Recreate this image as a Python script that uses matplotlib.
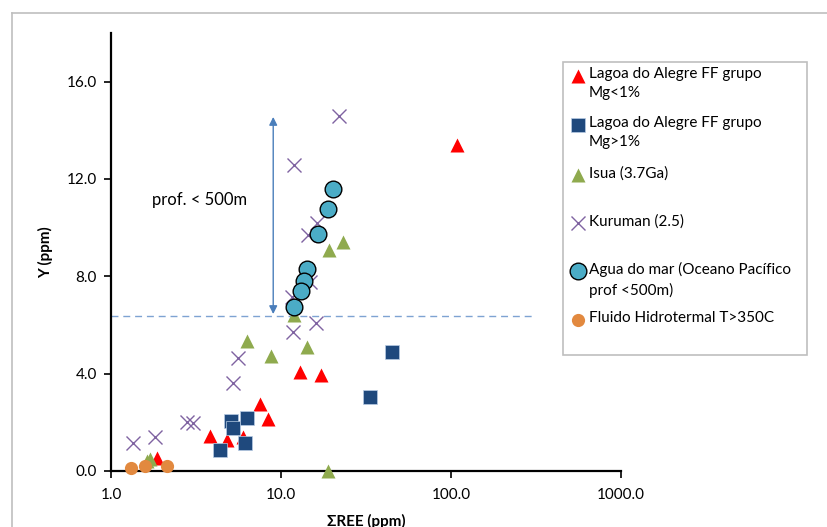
import matplotlib.pyplot as plt
from matplotlib.lines import Line2D
from matplotlib.patches import Rectangle

plt.rcParams['font.family'] = ['Lato', 'DejaVu Sans']

# Lagoa do Alegre FF grupo Mg<1%
red_x = [109, 12.9, 17.1, 7.5, 8.35, 3.8, 4.8, 6.0, 1.86]
red_y = [13.4, 4.07, 3.94, 2.75, 2.14, 1.44, 1.27, 1.4, 0.53]
# Lagoa do Alegre FF grupo Mg>1%
blue_x = [44.7, 33.6, 5.1, 5.2, 6.3, 6.1, 4.4]
blue_y = [4.89, 3.04, 2.05, 1.77, 2.18, 1.15, 0.86]
# Isua (3.7Ga)
green_x = [6.3, 8.7, 14.2, 11.9, 18.8, 1.62, 1.70, 19.1, 23.3]
green_y = [5.34, 4.72, 5.09, 6.4, 0.0, 0.42, 0.48, 9.08, 9.4]
# Kuruman (2.5)
kur_x = [21.8, 12.0, 16.2, 14.5, 14.9, 11.6, 16.0, 11.7, 5.57, 5.2, 2.79, 3.03, 1.81, 1.35]
kur_y = [14.58, 12.57, 10.2, 9.7, 7.76, 7.15, 6.08, 5.7, 4.64, 3.61, 2.0, 1.97, 1.4, 1.15]
# Agua do mar
sea_x = [20.1, 18.8, 16.4, 14.2, 13.6, 13.1, 11.9]
sea_y = [11.58, 10.76, 9.73, 8.3, 7.8, 7.39, 6.74]
# Fluido Hidrotermal
hyd_x = [1.31, 1.58, 2.13]
hyd_y = [0.12, 0.2, 0.2]

labels = ['Lagoa do Alegre FF grupo\nMg<1%', 'Lagoa do Alegre FF grupo\nMg>1%',
          'Isua (3.7Ga)', 'Kuruman (2.5)',
          'Agua do mar (Oceano Pacífico\nprof <500m)', 'Fluido Hidrotermal T>350C']

fig = plt.figure(figsize=(8.27, 5.27), dpi=100)
ax = fig.add_axes([111/827, 1-471/527, 510/827, 438/527])

styles = [
    dict(marker='^', color='#FF0000', ms=10, mec='none'),
    dict(marker='s', color='#1F497D', ms=9.5, mec='#B8CCE4', mew=0.5),
    dict(marker='^', color='#8FAA4E', ms=10, mec='none'),
    dict(marker='x', color='#7F63A1', ms=9.5, mew=1.0),
    dict(marker='o', color='#4BACC6', ms=12, mec='black', mew=1.0),
    dict(marker='o', color='#E2893F', ms=9.5, mec='none'),
]
series = [(red_x, red_y), (blue_x, blue_y), (green_x, green_y),
          (kur_x, kur_y), (sea_x, sea_y), (hyd_x, hyd_y)]
for (sx, sy), st in zip(series, styles):
    ax.plot(sx, sy, linestyle='none', clip_on=False, zorder=3, **st)

ax.set_xscale('log')
ax.set_xlim(1, 1000)
ax.set_ylim(0, 18)
ax.set_yticks([0, 4, 8, 12, 16])
ax.set_xticks([1, 10, 100, 1000])
ax.set_xticklabels(['1.0', '10.0', '100.0', '1000.0'])
ax.set_yticklabels(['0.0', '4.0', '8.0', '12.0', '16.0'])
ax.minorticks_off()
ax.tick_params(labelsize=11, length=5, width=1.2, direction='out', pad=5)
ax.tick_params(axis='x', pad=7)
for s in ['top', 'right']:
    ax.spines[s].set_visible(False)
for s in ['left', 'bottom']:
    ax.spines[s].set_linewidth(1.6)
ax.set_xlabel('ƩREE (ppm)', fontsize=11, fontweight='bold', labelpad=9)
ax.set_ylabel('Y (ppm)', fontsize=11, fontweight='bold', labelpad=10)

# depth limit line and arrow
ax.plot([1, 300], [6.35, 6.35], linestyle=(0, (5, 3.5)), color='#7EA3D2', lw=1.0, zorder=2)
ax.annotate('', xy=(9, 14.55), xytext=(9, 6.45),
            arrowprops=dict(arrowstyle='<|-|>', color='#4A7EBB', lw=1.0,
                            mutation_scale=12, shrinkA=0, shrinkB=0))
ax.text(1.74, 11.15, 'prof. < 500m', fontsize=12, va='center', ha='left')

# legend box
lax = fig.add_axes([563/827, 1-355/527, 244/827, 293/527])
lax.set_xlim(0, 244)
lax.set_ylim(293, 0)
lax.axis('off')
lax.add_patch(Rectangle((0, 0), 244, 293, fill=False, edgecolor='#BFBFBF', lw=1.2, clip_on=False))
rows = [14, 63, 113, 161, 209, 258]
for r, lab, st in zip(rows, labels, styles):
    lax.plot([15], [r], linestyle='none', **st)
    lax.text(26, r - 9, lab, fontsize=11, va='top', ha='left', linespacing=1.45)

# chart area border
fig.add_artist(Line2D([12/827, 12/827], [0, 1-13/527], color='#BFBFBF', lw=1.2))
fig.add_artist(Line2D([12/827, 1], [1-13/527, 1-13/527], color='#BFBFBF', lw=1.2))

fig.savefig('out.png', dpi=100)
